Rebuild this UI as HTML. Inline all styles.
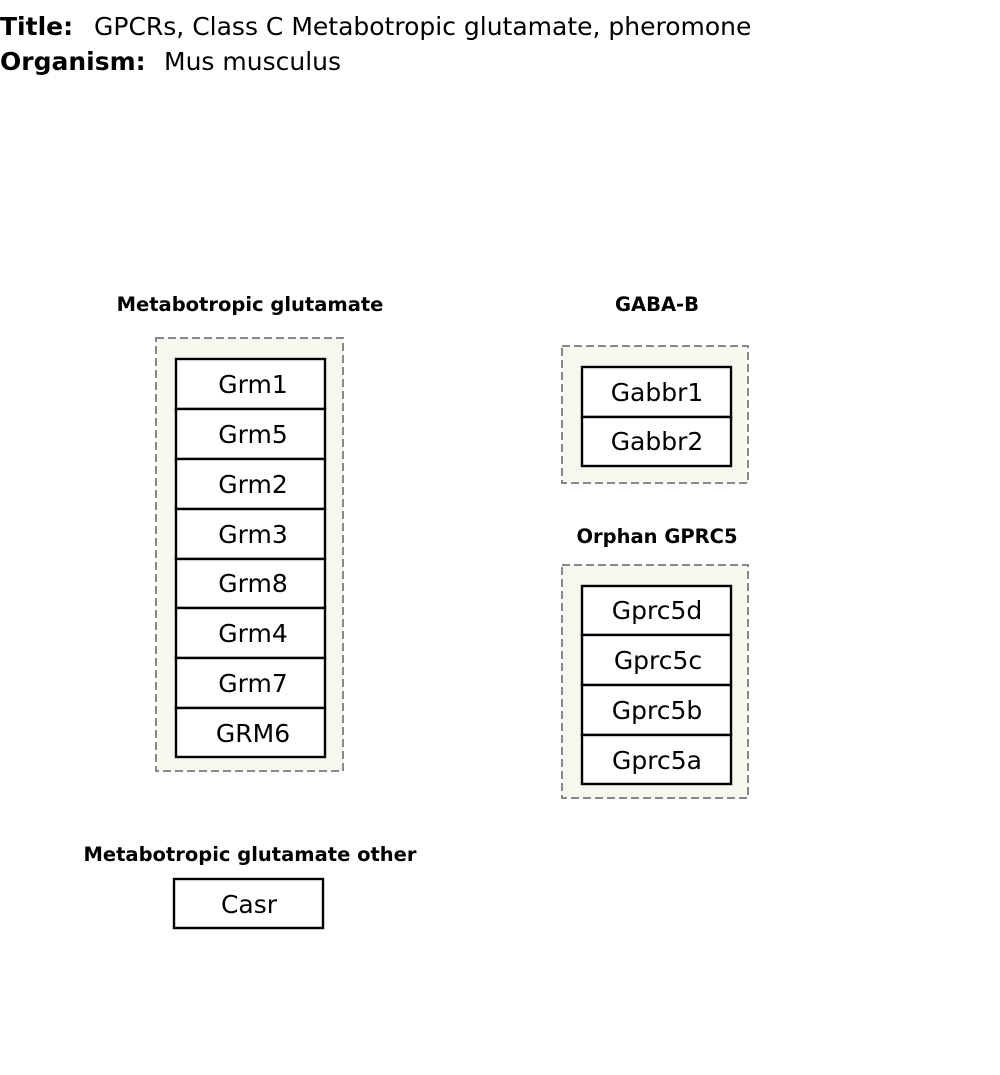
<!DOCTYPE html>
<html><head><meta charset="utf-8"><style>
html,body{margin:0;padding:0;background:#fff;}
svg{display:block;font-family:"DejaVu Sans","Liberation Sans",sans-serif;}
</style></head><body>
<svg width="1000" height="1075" viewBox="0 0 1000 1075" xmlns="http://www.w3.org/2000/svg">
<text x="0" y="35" font-size="25" font-weight="bold">Title:</text>
<text x="94" y="35" font-size="25">GPCRs, Class C Metabotropic glutamate, pheromone</text>
<text x="0" y="70" font-size="25" font-weight="bold">Organism:</text>
<text x="164" y="70" font-size="25">Mus musculus</text>

<g font-size="19.5" font-weight="bold" text-anchor="middle">
<text x="250" y="311">Metabotropic glutamate</text>
<text x="657" y="311">GABA-B</text>
<text x="657" y="543">Orphan GPRC5</text>
<text x="250" y="861">Metabotropic glutamate other</text>
</g>

<g fill="#f7f7f0" stroke="#888" stroke-width="2" stroke-dasharray="8,4">
<rect x="156" y="338" width="187" height="433"/>
<rect x="562" y="346" width="186" height="137"/>
<rect x="562" y="565" width="186" height="233"/>
</g>

<g fill="#fff" stroke="#000" stroke-width="2.4">
<rect x="176" y="359" width="149" height="50"/>
<rect x="176" y="409" width="149" height="50"/>
<rect x="176" y="459" width="149" height="50"/>
<rect x="176" y="509" width="149" height="50"/>
<rect x="176" y="559" width="149" height="49"/>
<rect x="176" y="608" width="149" height="50"/>
<rect x="176" y="658" width="149" height="50"/>
<rect x="176" y="708" width="149" height="49"/>
<rect x="582" y="367" width="149" height="50"/>
<rect x="582" y="417" width="149" height="49"/>
<rect x="582" y="586" width="149" height="49"/>
<rect x="582" y="635" width="149" height="50"/>
<rect x="582" y="685" width="149" height="50"/>
<rect x="582" y="735" width="149" height="49"/>
<rect x="174" y="879" width="149" height="49"/>
</g>

<g font-size="25" text-anchor="middle">
<text x="253" y="393">Grm1</text>
<text x="253" y="443">Grm5</text>
<text x="253" y="493">Grm2</text>
<text x="253" y="543">Grm3</text>
<text x="253" y="592">Grm8</text>
<text x="253" y="642">Grm4</text>
<text x="253" y="692">Grm7</text>
<text x="253" y="742">GRM6</text>
<text x="657" y="401">Gabbr1</text>
<text x="657" y="450">Gabbr2</text>
<text x="657" y="619">Gprc5d</text>
<text x="658" y="669">Gprc5c</text>
<text x="657" y="719">Gprc5b</text>
<text x="657" y="769">Gprc5a</text>
<text x="249" y="913">Casr</text>
</g>
</svg>
</body></html>
